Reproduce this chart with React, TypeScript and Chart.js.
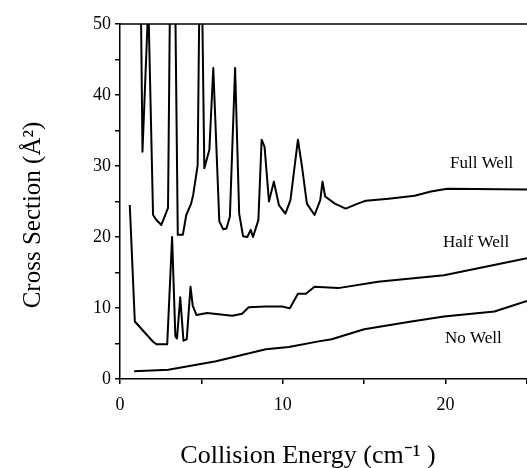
import React, { useEffect, useRef } from 'react';
import { Chart, registerables } from 'chart.js';

Chart.register(...registerables);

// Collision energy (cm^-1) and cross section (Å^2)
const fullWellX = [1.25, 1.38, 1.74, 2.03, 2.24, 2.54, 2.95, 3.22, 3.55, 3.86, 4.07, 4.37, 4.5, 4.77, 4.95, 5.18, 5.49, 5.73, 6.1, 6.34, 6.54, 6.75, 7.07, 7.32, 7.56, 7.82, 8.03, 8.17, 8.5, 8.7, 8.88, 9.15, 9.45, 9.76, 10.16, 10.47, 10.93, 11.18, 11.48, 11.95, 12.3, 12.44, 12.6, 13.2, 13.86, 14.6, 15.1, 16.5, 18.1, 19.1, 20.1, 25];
const fullWellY = [60, 32, 53, 23.1, 22.4, 21.7, 24.1, 90, 20.3, 20.3, 23.1, 24.7, 26, 30.1, 70, 29.7, 32.3, 43.8, 22.2, 21.1, 21.2, 22.9, 43.8, 23.3, 20.1, 20.0, 21.0, 20.0, 22.4, 33.7, 32.7, 25.0, 27.8, 24.5, 23.3, 25.2, 33.7, 29.9, 24.7, 23.1, 25.2, 27.8, 25.7, 24.7, 24.0, 24.7, 25.1, 25.4, 25.8, 26.4, 26.8, 26.7];

const halfWellX = [0.6, 0.91, 2.03, 2.24, 2.9, 3.2, 3.4, 3.5, 3.7, 3.9, 4.1, 4.33, 4.47, 4.7, 5.35, 6.9, 7.5, 7.9, 8.95, 9.96, 10.43, 10.93, 11.42, 11.95, 13.4, 15.85, 19.9, 25];
const halfWellY = [24.5, 8.1, 5.25, 4.9, 4.9, 20.0, 6.0, 5.7, 11.5, 5.4, 5.6, 13.0, 10.3, 9.0, 9.3, 8.9, 9.2, 10.1, 10.2, 10.2, 9.95, 12.0, 12.0, 13.0, 12.8, 13.7, 14.6, 17.0];

const noWellX = [0.87, 2.97, 5.9, 8.95, 10.37, 12.2, 13.0, 15.0, 17.9, 19.9, 23.0, 25];
const noWellY = [1.1, 1.3, 2.5, 4.2, 4.5, 5.3, 5.6, 7.0, 8.1, 8.8, 9.5, 11.0];

const curveLabels = ['Full Well', 'Half Well', 'No Well'];
const curveLabelX = [20.27, 19.84, 19.96];
const curveLabelY = [29.7, 18.6, 5.07];

const xTickLabels = [0, 10, 20];
const yTickLabels = [0, 10, 20, 30, 40, 50];

const xTitle = 'Collision Energy (cm\u207B\u00B9 )';
const yTitle = 'Cross Section (\u00C5\u00B2)';

const FONT = "'Liberation Serif', 'Times New Roman', serif";

export default function App() {
  const ref = useRef<HTMLCanvasElement>(null);

  useEffect(() => {
    document.body.style.margin = '0';
    const canvas = ref.current;
    if (!canvas) return;
    const toPts = (xs: number[], ys: number[]) => xs.map((x, i) => ({ x, y: ys[i] }));

    const decor = {
      id: 'decor',
      afterDraw(chart: any) {
        const { ctx, chartArea, scales } = chart;
        ctx.save();
        ctx.strokeStyle = '#000';
        ctx.lineWidth = 1.5;
        ctx.beginPath();
        ctx.moveTo(chartArea.left, chartArea.top);
        ctx.lineTo(chartArea.right, chartArea.top);
        ctx.stroke();

        ctx.fillStyle = '#000';
        ctx.font = `17px ${FONT}`;
        ctx.textAlign = 'left';
        ctx.textBaseline = 'alphabetic';
        curveLabels.forEach((t, i) => {
          ctx.fillText(t, scales.x.getPixelForValue(curveLabelX[i]), scales.y.getPixelForValue(curveLabelY[i]));
        });

        ctx.font = `26px ${FONT}`;
        ctx.textAlign = 'center';
        ctx.fillText(xTitle, 308, 463);

        ctx.font = `25px ${FONT}`;
        ctx.translate(40, 215);
        ctx.rotate(-Math.PI / 2);
        ctx.fillText(yTitle, 0, 0);
        ctx.restore();
      },
    };

    const lineStyle = {
      borderColor: '#000',
      borderWidth: 2,
      pointRadius: 0,
      fill: false,
      tension: 0,
      clip: 0,
      borderJoinStyle: 'round' as const,
    };

    const chart = new Chart(canvas, {
      type: 'line',
      data: {
        datasets: [
          { label: 'Full Well', data: toPts(fullWellX, fullWellY), ...lineStyle },
          { label: 'Half Well', data: toPts(halfWellX, halfWellY), ...lineStyle },
          { label: 'No Well', data: toPts(noWellX, noWellY), ...lineStyle },
        ],
      },
      options: {
        responsive: false,
        animation: false,
        devicePixelRatio: 1,
        layout: { padding: { top: 24, left: 0, right: 0, bottom: 0 } },
        plugins: { legend: { display: false }, tooltip: { enabled: false } },
        scales: {
          x: {
            type: 'linear',
            min: 0,
            max: 25,
            afterFit: (s: any) => { s.height = 89; s.paddingRight = 0; s.paddingLeft = 0; },
            grid: { display: true, drawOnChartArea: false, drawTicks: true, tickLength: 5, color: '#000', lineWidth: 1.5 },
            border: { display: true, color: '#000', width: 1.5 },
            ticks: {
              stepSize: 5,
              autoSkip: false,
              maxRotation: 0,
              padding: 10,
              color: '#000',
              font: { family: FONT, size: 18 },
              callback: (v: any) => (xTickLabels.includes(Number(v)) ? String(v) : ''),
            },
          },
          y: {
            type: 'linear',
            min: 0,
            max: 50,
            afterFit: (s: any) => { s.width = 120; },
            grid: { display: true, drawOnChartArea: false, drawTicks: true, tickLength: 5, color: '#000', lineWidth: 1.5 },
            border: { display: true, color: '#000', width: 1.5 },
            ticks: {
              stepSize: 5,
              autoSkip: false,
              padding: 4,
              color: '#000',
              font: { family: FONT, size: 18 },
              callback: (v: any) => (yTickLabels.includes(Number(v)) ? String(v) : ''),
            },
          },
        },
      },
      plugins: [decor],
    });

    return () => chart.destroy();
  }, []);

  return (
    <div style={{ width: 527, height: 468 }}>
      <canvas ref={ref} width={527} height={468} style={{ display: 'block' }} />
    </div>
  );
}
